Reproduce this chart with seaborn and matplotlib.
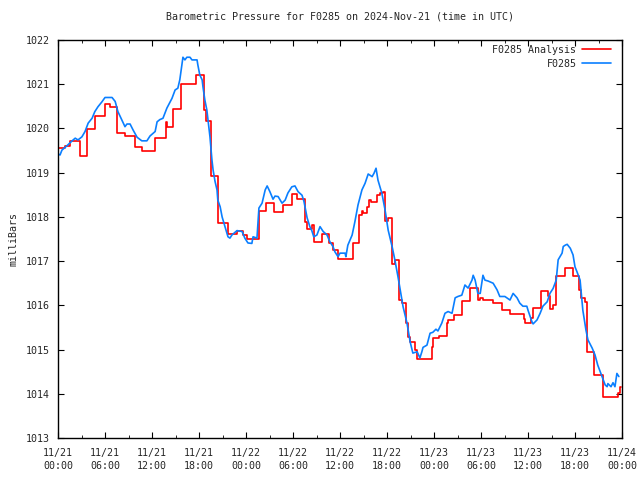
import numpy as np
import pandas as pd
import matplotlib
matplotlib.use("Agg")
import matplotlib.pyplot as plt
import matplotlib.dates as mdates
import seaborn as sns

# ─────────────────────────────────────────────
# DATA  (hours after 2024-11-21 00:00 UTC, millibars)
# ─────────────────────────────────────────────
START = pd.Timestamp("2024-11-21 00:00")

# Analysis series, step values (each value holds until the next time)
analysis_hours = [
    0.0, 0.9, 1.5, 2.8, 3.7, 4.7, 6.0, 6.6, 7.5, 8.6, 9.8, 10.7, 12.4, 13.8,
    13.9, 14.7, 15.7, 17.6, 18.6, 18.9, 19.5, 20.4, 21.7, 22.9, 23.6, 24.1,
    25.7, 26.6, 27.6, 28.7, 29.9, 30.5, 31.5, 31.8, 32.4, 32.7, 33.7, 34.6,
    35.1, 35.7, 37.7, 38.4, 38.8, 38.9, 39.4, 39.7, 40.0, 40.7, 41.1, 41.5,
    41.7, 42.1, 42.6, 43.0, 43.5, 43.9, 44.4, 44.7, 44.9, 45.6, 45.8, 47.7,
    47.9, 48.6, 49.7, 49.8, 50.6, 51.6, 52.6, 53.6, 53.9, 54.3, 55.5, 56.7,
    57.7, 59.5, 59.6, 60.4, 60.6, 61.7, 62.6, 62.8, 63.2, 63.6, 64.7, 65.7,
    66.5, 66.8, 67.3, 67.5, 68.4, 69.6, 71.5, 71.7, 71.9,
]
analysis_mbar = [
    1019.56, 1019.61, 1019.72, 1019.38, 1019.99, 1020.28, 1020.55, 1020.48,
    1019.90, 1019.83, 1019.57, 1019.50, 1019.78, 1020.15, 1020.04, 1020.44,
    1021.00, 1021.21, 1020.42, 1020.17, 1018.92, 1017.86, 1017.61, 1017.69,
    1017.59, 1017.50, 1018.13, 1018.31, 1018.12, 1018.27, 1018.51, 1018.40,
    1017.89, 1017.72, 1017.82, 1017.44, 1017.61, 1017.41, 1017.25, 1017.04,
    1017.42, 1018.04, 1018.14, 1018.09, 1018.23, 1018.38, 1018.33, 1018.50,
    1018.53, 1018.57, 1017.91, 1017.98, 1016.93, 1017.03, 1016.12, 1016.05,
    1015.60, 1015.29, 1015.16, 1015.00, 1014.79, 1015.06, 1015.26, 1015.31,
    1015.60, 1015.67, 1015.78, 1016.10, 1016.39, 1016.12, 1016.17, 1016.12,
    1016.06, 1015.89, 1015.80, 1015.69, 1015.59, 1015.72, 1015.93, 1016.32,
    1016.20, 1015.92, 1016.01, 1016.66, 1016.84, 1016.66, 1016.35, 1016.16,
    1016.08, 1014.94, 1014.42, 1013.93, 1014.02, 1014.16, 1014.16,
]

# Station observations
station_hours = [
    0.0, 0.26, 0.5, 1.15, 1.8, 2.2, 2.55, 3.05, 3.45, 3.85, 4.35, 4.7, 5.1,
    5.6, 6.0, 6.9, 7.3, 7.65, 8.15, 8.55, 8.8, 9.2, 9.6, 10.1, 10.7, 11.35,
    11.75, 12.4, 12.65, 13.0, 13.4, 13.9, 14.55, 14.95, 15.3, 15.55, 15.85,
    15.95, 16.2, 16.45, 16.85, 17.1, 17.75, 17.85, 18.1, 18.4, 18.5, 18.75,
    19.0, 19.15, 19.4, 19.65, 19.8, 20.05, 20.3, 20.4, 20.7, 20.95, 21.2,
    21.45, 21.7, 21.95, 22.2, 22.85, 23.5, 23.85, 24.25, 24.75, 24.9, 25.4,
    25.55, 25.65, 26.05, 26.45, 26.7, 27.05, 27.45, 27.7, 28.1, 28.6, 29.0,
    29.35, 29.85, 30.25, 30.65, 31.15, 31.4, 31.8, 32.15, 32.4, 32.65, 33.05,
    33.45, 33.85, 34.35, 34.7, 35.1, 35.35, 35.75, 36.0, 36.65, 36.75, 37.0,
    37.55, 37.9, 38.3, 38.8, 39.2, 39.6, 40.1, 40.35, 40.6, 40.85, 41.35,
    41.75, 42.15, 42.65, 43.0, 43.4, 43.65, 44.05, 44.55, 44.95, 45.3, 45.85,
    46.2, 46.45, 46.6, 47.1, 47.5, 47.85, 48.25, 48.5, 49.0, 49.4, 49.8, 50.3,
    50.7, 51.05, 51.55, 51.95, 52.35, 52.85, 53.0, 53.25, 53.6, 53.9, 54.25,
    54.5, 54.9, 55.55, 56.05, 56.4, 57.05, 57.7, 58.1, 58.6, 58.95, 59.35,
    59.85, 60.0, 60.5, 60.65, 61.15, 61.55, 61.9, 62.45, 62.8, 63.2, 63.6,
    63.85, 64.35, 64.5, 64.75, 65.0, 65.4, 65.75, 66.0, 66.25, 66.65, 67.0,
    67.4, 67.65, 68.2, 68.55, 68.9, 69.45, 69.85, 70.1, 70.2, 70.6, 70.85,
    71.1, 71.35, 71.6,
]
station_mbar = [
    1019.42, 1019.40, 1019.51, 1019.61, 1019.72, 1019.78, 1019.74, 1019.81,
    1019.93, 1020.12, 1020.23, 1020.38, 1020.49, 1020.60, 1020.70, 1020.70,
    1020.61, 1020.38, 1020.19, 1020.04, 1020.10, 1020.10, 1019.96, 1019.80,
    1019.72, 1019.72, 1019.83, 1019.93, 1020.15, 1020.20, 1020.23, 1020.46,
    1020.68, 1020.87, 1020.91, 1021.10, 1021.47, 1021.61, 1021.55, 1021.61,
    1021.61, 1021.55, 1021.55, 1021.44, 1021.21, 1021.10, 1020.95, 1020.64,
    1020.42, 1020.19, 1019.81, 1019.29, 1019.06, 1018.80, 1018.61, 1018.38,
    1018.23, 1018.00, 1017.85, 1017.70, 1017.55, 1017.52, 1017.59, 1017.69,
    1017.67, 1017.52, 1017.41, 1017.40, 1017.55, 1017.52, 1017.93, 1018.20,
    1018.31, 1018.61, 1018.70, 1018.57, 1018.40, 1018.47, 1018.46, 1018.31,
    1018.38, 1018.54, 1018.68, 1018.70, 1018.57, 1018.49, 1018.35, 1017.98,
    1017.78, 1017.69, 1017.55, 1017.59, 1017.78, 1017.67, 1017.59, 1017.44,
    1017.33, 1017.21, 1017.10, 1017.18, 1017.18, 1017.10, 1017.36, 1017.59,
    1017.89, 1018.27, 1018.61, 1018.76, 1018.97, 1018.91, 1018.99, 1019.10,
    1018.83, 1018.53, 1018.16, 1017.70, 1017.33, 1017.03, 1016.65, 1016.39,
    1015.97, 1015.60, 1015.18, 1014.92, 1014.95, 1014.81, 1014.95, 1015.05,
    1015.10, 1015.37, 1015.39, 1015.46, 1015.42, 1015.60, 1015.82, 1015.86,
    1015.82, 1016.17, 1016.20, 1016.23, 1016.46, 1016.39, 1016.57, 1016.68,
    1016.57, 1016.27, 1016.27, 1016.68, 1016.57, 1016.55, 1016.50, 1016.35,
    1016.20, 1016.20, 1016.12, 1016.27, 1016.17, 1016.05, 1015.98, 1015.98,
    1015.89, 1015.63, 1015.58, 1015.67, 1015.82, 1015.98, 1016.08, 1016.27,
    1016.38, 1016.57, 1017.03, 1017.18, 1017.33, 1017.36, 1017.38, 1017.29,
    1017.14, 1016.87, 1016.76, 1016.57, 1015.89, 1015.44, 1015.22, 1015.03,
    1014.88, 1014.65, 1014.39, 1014.20, 1014.16, 1014.23, 1014.16, 1014.25,
    1014.16, 1014.46, 1014.39,
]

TITLE = "Barometric Pressure for F0285 on 2024-Nov-21 (time in UTC)"
Y_LABEL = "milliBars"
Y_TICKS = [1013, 1014, 1015, 1016, 1017, 1018, 1019, 1020, 1021, 1022]

RED = "#ff0000"
BLUE = "#0a7fff"
FS = 7.2


def main():
    sns.set_style("ticks")
    plt.rcParams["font.family"] = ["DejaVu Sans Mono"]

    analysis = pd.DataFrame({
        "time": START + pd.to_timedelta(analysis_hours, unit="h"),
        "mbar": analysis_mbar,
    })
    station = pd.DataFrame({
        "time": START + pd.to_timedelta(station_hours, unit="h"),
        "mbar": station_mbar,
    })

    fig = plt.figure(figsize=(6.4, 4.8), dpi=100)
    ax = fig.add_axes([58 / 640, 1 - 438 / 480, 564 / 640, 398 / 480])

    sns.lineplot(data=analysis, x="time", y="mbar", ax=ax, color=RED, lw=1.2,
                 drawstyle="steps-post", label="F0285 Analysis")
    sns.lineplot(data=station, x="time", y="mbar", ax=ax, color=BLUE, lw=1.2,
                 label="F0285")

    ax.set_xlim(START, START + pd.Timedelta(hours=72))
    ax.set_ylim(1013, 1022)
    ax.set_yticks(Y_TICKS)
    ax.xaxis.set_major_locator(mdates.HourLocator(byhour=[0, 6, 12, 18]))
    ax.xaxis.set_minor_locator(mdates.HourLocator(byhour=[3, 9, 15, 21]))
    ax.xaxis.set_major_formatter(mdates.DateFormatter("%m/%d\n%H:%M"))

    ax.tick_params(axis="both", which="both", direction="in",
                   top=True, right=True, labelsize=FS, color="black")
    ax.tick_params(axis="both", which="major", length=4, pad=6)
    ax.tick_params(axis="x", which="major", pad=7)
    ax.tick_params(axis="both", which="minor", length=2.5)
    for spine in ax.spines.values():
        spine.set_visible(True)
        spine.set_linewidth(1.0)
        spine.set_color("black")

    ax.set_xlabel("")
    ax.set_ylabel(Y_LABEL, fontsize=FS, labelpad=5)
    ax.set_title(TITLE, fontsize=FS, pad=15)

    ax.legend(loc="upper right", bbox_to_anchor=(0.983, 0.991),
              frameon=False, markerfirst=False,
              fontsize=FS, handlelength=2.9, labelspacing=0.4,
              borderaxespad=0.0, handletextpad=0.6, borderpad=0.1)

    fig.canvas.draw()
    for lbl in ax.get_xticklabels():
        lbl.set_linespacing(1.45)

    fig.savefig("out.png", dpi=100)
    plt.close(fig)


if __name__ == "__main__":
    main()
